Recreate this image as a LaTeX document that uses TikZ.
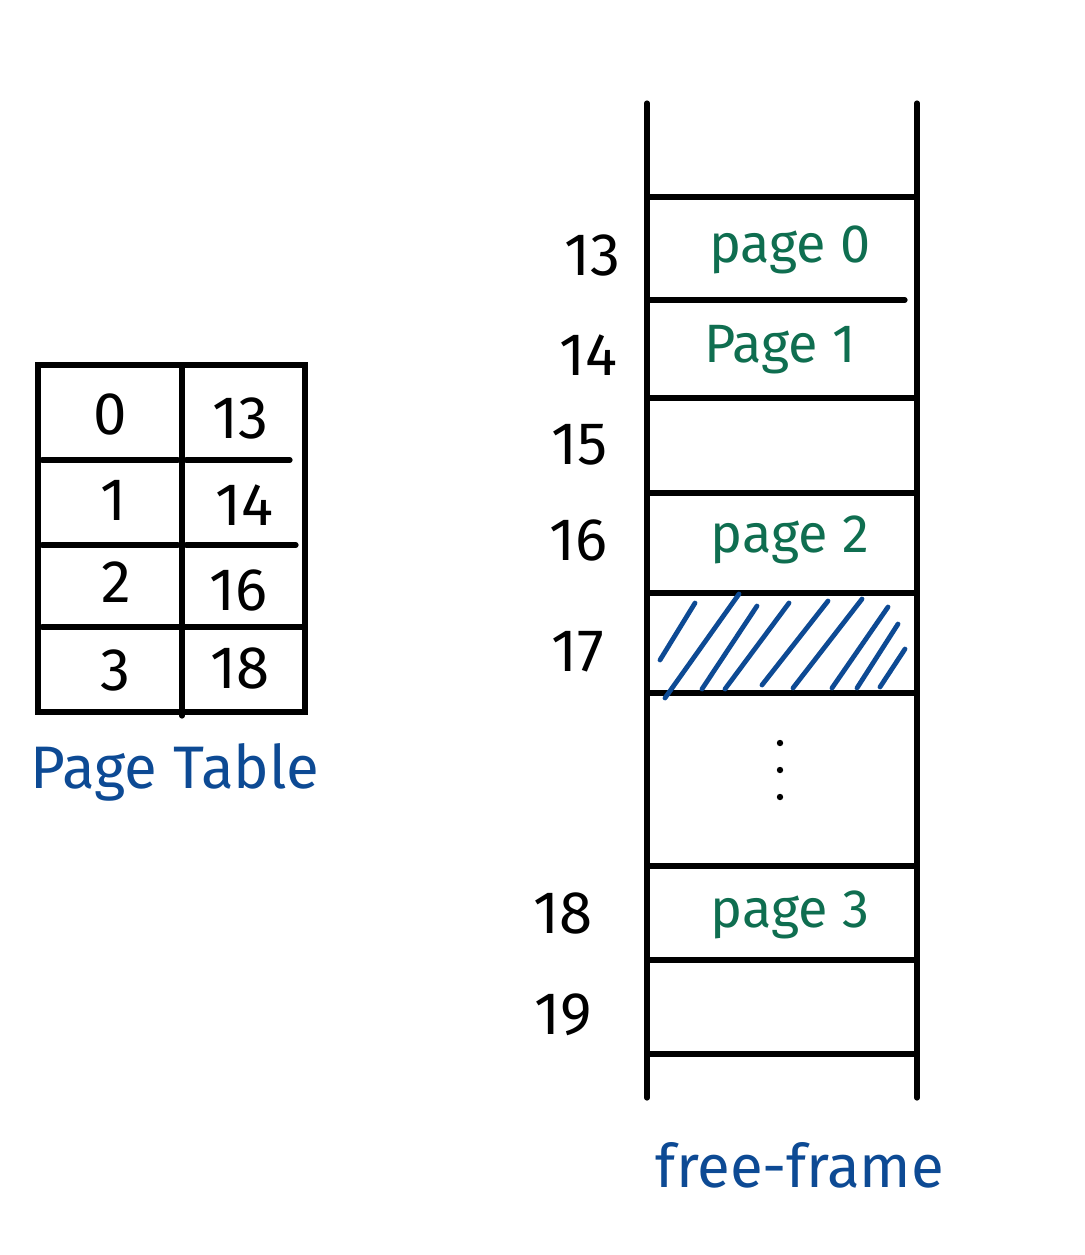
\documentclass[tikz,border=0pt]{standalone}
\usepackage{fontspec}
\setmainfont{Fira Sans}
\definecolor{inkblue}{HTML}{0D4A94}
\definecolor{inkgreen}{HTML}{0F6E50}
\begin{document}
\begin{tikzpicture}[x=0.5pt,y=-0.5pt,
  ink/.style={line width=2.6pt,line cap=round,black},
  hatch/.style={line width=2.4pt,line cap=round,inkblue},
  num/.style={font=\fontsize{30}{32}\selectfont,text=black},
  pg/.style={font=\fontsize{27}{29}\selectfont,text=inkgreen},
  title/.style={font=\fontsize{30}{32}\selectfont,text=inkblue}]
\useasboundingbox (0,0) rectangle (1084,1255);
% page table
\draw[ink] (38,365) rectangle (305,712);
\draw[ink] (182,368) -- (182,716);
\draw[ink] (42,460) -- (178,460) (186,460) -- (290,460);
\draw[ink] (42,545) -- (178,545) (186,545) -- (296,545);
\draw[ink] (42,627) -- (302,627);
\node[num] (k0) at (110,414) {0};
\node[num] (k1) at (113,500) {1};
\node[num] (k2) at (116,582) {2};
\node[num] (k3) at (115,670) {3};
\node[num] (v0) at (240,418) {13};
\node[num] (v1) at (244,505) {14};
\node[num] (v2) at (238,590) {16};
\node[num] (v3) at (240,668) {18};
\node[title] (pt) at (175,772) {Page Table};
% frame column
\draw[ink] (647,103) -- (647,1098);
\draw[ink] (917,103) -- (917,1098);
\foreach \y in {197,398,493,593,693,866,960,1054}
  \draw[ink] (647,\y) -- (917,\y);
\draw[ink] (650,300) -- (905,300);
\node[num] (f13) at (592,255) {13};
\node[num] (f14) at (588,355) {14};
\node[num] (f15) at (580,445) {15};
\node[num] (f16) at (578,540) {16};
\node[num] (f17) at (578,652) {17};
\node[num] (f18) at (563,913) {18};
\node[num] (f19) at (563,1015) {19};
\node[pg] (p0) at (790,250) {page 0};
\node[pg] (p1) at (780,350) {Page 1};
\node[pg] (p2) at (790,540) {page 2};
\node[pg] (p3) at (790,915) {page 3};
\foreach \yy in {743,770,797} \fill (780,\yy) circle (3.2);
\node[title] (ff) at (800,1165) {free-frame};
% hatching
\draw[hatch] (660,660) -- (695,603);
\draw[hatch] (665,698) -- (739,594);
\draw[hatch] (702,689) -- (757,606);
\draw[hatch] (725,689) -- (789,603);
\draw[hatch] (762,685) -- (828,601);
\draw[hatch] (793,688) -- (862,599);
\draw[hatch] (832,688) -- (888,607);
\draw[hatch] (857,688) -- (898,624);
\draw[hatch] (880,687) -- (905,649);
\end{tikzpicture}
\end{document}
